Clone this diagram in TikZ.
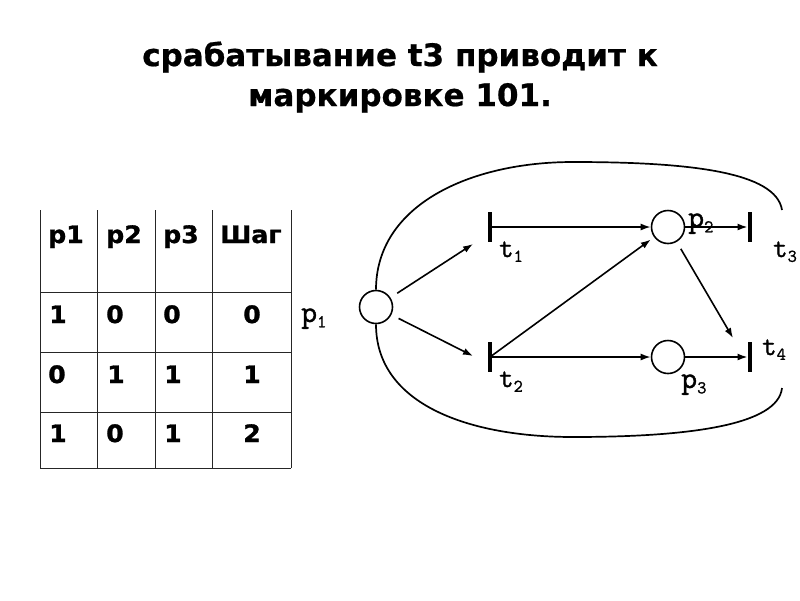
\documentclass[tikz,border=0pt]{standalone}
\usepackage{fontspec}
\setmainfont{DejaVu Sans}
\newfontfamily\tabfont[FakeBold=1.2,FakeStretch=1.05]{DejaVu Sans Bold}
\newfontfamily\titlefont[FakeBold=0.6]{DejaVu Sans Bold}
\newfontfamily\lblfont[FakeBold=1.2]{Latin Modern Mono}
\usetikzlibrary{arrows.meta}
\newcommand\lsub[1]{\raisebox{-0.4ex}{\fontsize{18}{18}\selectfont #1}}
\begin{document}
\begin{tikzpicture}[x=1pt,y=-1pt,
  arc/.style={line width=1.6pt,-{Latex[length=10pt,width=7pt]}},
  bigcurve/.style={line width=1.7pt},
  place/.style={circle,draw,line width=1.6pt,minimum size=33pt,inner sep=0pt},
  trans/.style={rectangle,draw=none,fill=black,minimum width=4.5pt,minimum height=30pt,inner sep=0pt},
  tlbl/.style={font=\lblfont\fontsize{28}{28}\selectfont,inner sep=0pt,anchor=base west},
  plbl/.style={font=\lblfont\fontsize{31}{31}\selectfont,inner sep=0pt,anchor=base west},
  cell/.style={font=\tabfont\fontsize{24}{24}\selectfont,inner sep=0pt,anchor=base west},
  cellc/.style={font=\tabfont\fontsize{24}{24}\selectfont,inner sep=0pt,anchor=base},
  gridline/.style={draw=black!85,line width=0.9pt},
  titletext/.style={font=\titlefont\fontsize{31}{40}\selectfont,align=center,inner sep=0pt}]
\useasboundingbox (0,0) rectangle (800,600);

% title
\node[titletext] (title) at (400,77) {срабатывание t3 приводит к\\маркировке 101.};

% table grid
\foreach \x in {40,97.5,155,212,291} \draw[gridline] (\x,210) -- (\x,468);
\foreach \y in {292,352,412,468} \draw[gridline] (40,\y) -- (291,\y);

% table text
\node[cell] (h1) at (48,243) {p1};
\node[cell] (h2) at (106,243) {p2};
\node[cell] (h3) at (163,243) {p3};
\node[cell] (h4) at (220,243) {Шаг};
\node[cell] (a1) at (49,323) {1};
\node[cell] (a2) at (106,323) {0};
\node[cell] (a3) at (163,323) {0};
\node[cellc] (a4) at (252,323) {0};
\node[cell] (b1) at (48,383) {0};
\node[cell] (b2) at (107,383) {1};
\node[cell] (b3) at (164,383) {1};
\node[cellc] (b4) at (252,383) {1};
\node[cell] (c1) at (49,442) {1};
\node[cell] (c2) at (106,442) {0};
\node[cell] (c3) at (164,442) {1};
\node[cellc] (c4) at (252,442) {2};

% Petri net
\node[place] (p1) at (376,307) {};
\node[place] (p2) at (668,227) {};
\node[place] (p3) at (668,357) {};
\node[trans] (t1) at (490,227) {};
\node[trans] (t2) at (490,357) {};
\node[trans] (t3) at (750,227) {};
\node[trans] (t4) at (750,357) {};
\coordinate (t1in) at (473,244);
\coordinate (t2in) at (473,356);
\coordinate (t4in) at (733,338);

\draw[arc,shorten <=8pt] (p1) -- (t1in);
\draw[arc,shorten <=8pt] (p1) -- (t2in);
\draw[arc] (t1.center) -- (p2);
\draw[arc] (t2.center) -- (p3);
\draw[arc,shorten >=4pt] (t2.center) -- (p2);
\draw[arc] (p2) -- (t3.west);
\draw[arc] (p3) -- (t4.west);
\draw[arc,shorten <=8pt] (p2) -- (t4in);

% big curves
\coordinate (ue) at (782,210);
\coordinate (le) at (782,388);
\draw[bigcurve] (p1.north) .. controls (376,205) and (470,162) .. (573,162)
  .. controls (690,162) and (776,172) .. (ue);
\draw[bigcurve] (p1.south) .. controls (376,405) and (470,437) .. (573,437)
  .. controls (690,437) and (778,425) .. (le);

% labels
\node[plbl] (lp1) at (301,322) {p\lsub{1}};
\node[plbl] (lp2) at (688,227) {p\lsub{2}};
\node[plbl] (lp3) at (681,388) {p\lsub{3}};
\node[tlbl] (lt1) at (499,257) {t\lsub{1}};
\node[tlbl] (lt2) at (499,387) {t\lsub{2}};
\node[tlbl] (lt3) at (773,257) {t\lsub{3}};
\node[tlbl] (lt4) at (762,355) {t\lsub{4}};
\end{tikzpicture}
\end{document}
